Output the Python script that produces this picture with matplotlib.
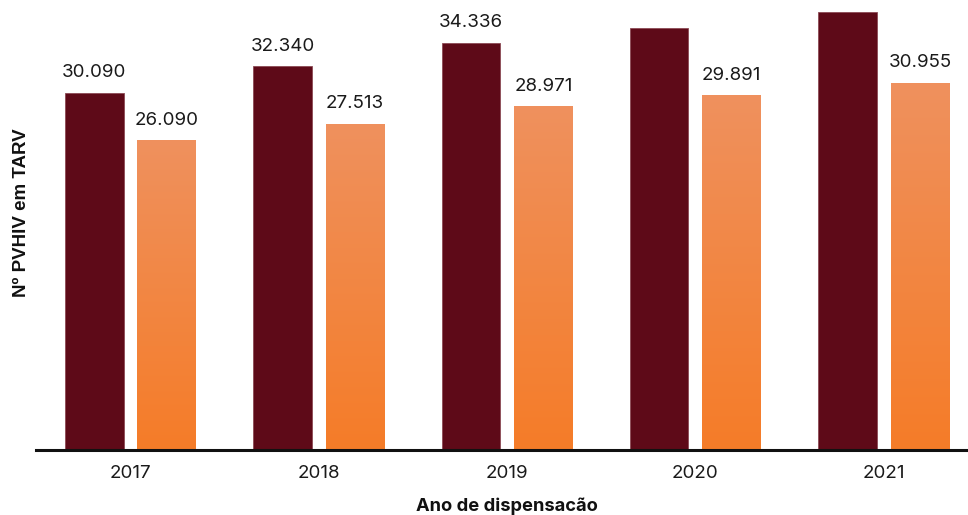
import numpy as np
import matplotlib
matplotlib.use("Agg")
import matplotlib.pyplot as plt
from matplotlib.colors import LinearSegmentedColormap

# Data
years = ["2017", "2018", "2019", "2020", "2021"]
dispensed = [30090, 32340, 34336, 35570, 36890]
in_treatment = [26090, 27513, 28971, 29891, 30955]

dark_color = "#5E0A18"
orange_top = "#EF915E"
orange_bottom = "#F57C28"

fig = plt.figure(figsize=(9.68, 5.15), dpi=100)
ax = fig.add_axes([36 / 968, 1 - 450 / 515, 932 / 968, 450 / 515])

x = np.arange(len(years))
width = 0.311
offset = 0.1925

bars_dark = ax.bar(x - offset, dispensed, width, color=dark_color,
                   edgecolor="#8c4a55", linewidth=0.6, zorder=2)
bars_orange = ax.bar(x + offset, in_treatment, width, color="none",
                     edgecolor="none", zorder=2)

ymax = 37930
ax.set_xlim(-0.502, 4.448)
ax.set_ylim(0, ymax)

# vertical gradient fill for the second series
cmap = LinearSegmentedColormap.from_list("og", [orange_bottom, orange_top])
grad = np.linspace(0, 1, 256).reshape(-1, 1)
for b in bars_orange:
    x0, y0 = b.get_xy()
    im = ax.imshow(grad, cmap=cmap, origin="lower", aspect="auto",
                   extent=[x0, x0 + b.get_width(), y0, y0 + b.get_height()],
                   zorder=2, interpolation="bicubic")
    im.set_clip_path(b)

label_font = dict(family=["Inter", "DejaVu Sans"], fontsize=13.5, color="#1a1a1a")


def fmt(v):
    return f"{v:,}".replace(",", ".")


def annotate(bars, values):
    for b, v in zip(bars, values):
        top_px = v / ymax * 450
        if top_px + 38 > 450:
            continue
        ax.annotate(fmt(v), (b.get_x() + b.get_width() / 2, v),
                    xytext=(0, 8.3), textcoords="offset points",
                    ha="center", va="bottom", **label_font)


annotate(bars_dark, dispensed)
annotate(bars_orange, in_treatment)

ax.set_xticks(x)
ax.set_xticklabels(years, **label_font)
ax.tick_params(axis="x", length=0, pad=11)
ax.set_yticks([])
for s in ["top", "right", "left"]:
    ax.spines[s].set_visible(False)
ax.spines["bottom"].set_linewidth(2.2)
ax.spines["bottom"].set_color("#111111")

fig.text(22 / 968, 1 - 213 / 515, "Nº PVHIV em TARV", rotation=90,
         ha="center", va="center", fontsize=13.5, fontweight="bold",
         family=["Liberation Sans", "DejaVu Sans"], color="#111111")
fig.text(507 / 968, 4 / 515, "Ano de dispensacão", ha="center",
         va="baseline", fontsize=13.2, fontweight="bold",
         family=["Inter", "DejaVu Sans"], color="#111111")

fig.savefig("out.png", dpi=100)
